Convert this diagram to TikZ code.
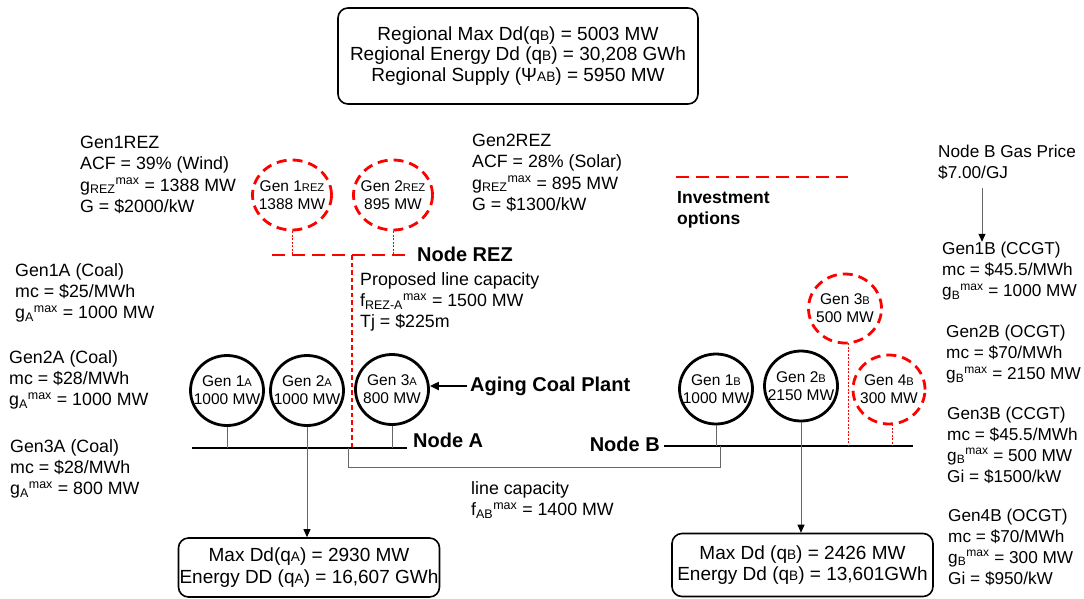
\documentclass[tikz,border=0pt]{standalone}
\usepackage{fontspec}
\setmainfont{Liberation Sans}
\usetikzlibrary{arrows.meta,shapes.geometric}
\newcommand{\lo}[1]{\scalebox{0.72}{#1}}
\definecolor{invred}{RGB}{255,0,0}
\tikzset{
  txt/.style={anchor=west, align=left, inner sep=0pt, font=\fontsize{17.8}{21.3}\selectfont},
  rtxt/.style={txt, font=\fontsize{17.2}{21}\selectfont},
  boldlbl/.style={anchor=west, inner sep=0pt, font=\fontsize{20}{22}\selectfont\bfseries},
  gen/.style={ellipse, draw, line width=2.8pt, minimum width=73pt, minimum height=70pt, inner sep=0pt},
  gentext/.style={inner sep=0pt, align=center, font=\fontsize{15.5}{18}\selectfont},
  invgen/.style={gen, draw=invred, dash pattern=on 10pt off 6pt},
  bus/.style={line width=2.8pt},
  invbus/.style={line width=2.8pt, invred, dash pattern=on 13pt off 7pt},
  thinlink/.style={gray!80!black, line width=0.9pt},
  dotlink/.style={invred, line width=0.8pt, dash pattern=on 2pt off 1.5pt},
  reddash/.style={invred, line width=1.2pt, dash pattern=on 4.5pt off 3pt},
  arr/.style={thinlink, -{Triangle[length=8pt,width=7pt,color=black]}},
  infobox/.style={draw, line width=1.6pt, rounded corners=10pt, inner sep=0pt, align=center, font=\fontsize{19}{21.5}\selectfont}
}
\begin{document}
\begin{tikzpicture}[x=1pt,y=-1pt]
\useasboundingbox (0,0) rectangle (1084,598);

% top box
\node[infobox, minimum width=360pt, minimum height=96pt, font=\fontsize{19}{20.6}\selectfont] (region) at (518,56)
  {Regional Max Dd(q\lo{B}) = 5003 MW\\Regional Energy Dd (q\lo{B}) = 30,208 GWh\\Regional Supply (Ψ\lo{AB}) = 5950 MW};

% REZ text blocks
\node[txt] (g1reztxt) at (80,175) {Gen1REZ\\ACF = 39\% (Wind)\\g\textsubscript{REZ}\textsuperscript{max} = 1388 MW\\G = \$2000/kW};
\node[txt] (g2reztxt) at (472,173) {Gen2REZ\\ACF = 28\% (Solar)\\g\textsubscript{REZ}\textsuperscript{max} = 895 MW\\G = \$1300/kW};

% REZ generators
\node[invgen, minimum width=79pt, minimum height=70pt] (g1rez) at (292,195) {};
\node[gentext] at (g1rez) {Gen 1\lo{REZ}\\1388 MW};
\node[invgen, minimum width=79pt, minimum height=70pt] (g2rez) at (393,195) {};
\node[gentext] at (g2rez) {Gen 2\lo{REZ}\\895 MW};

% REZ bus
\coordinate (rezL) at (272,255);
\coordinate (rezR) at (409,255);
\draw[invbus] (rezL) -- (rezR);
\node[boldlbl] (noderez) at (417,254) {Node REZ};
\draw[dotlink] (g1rez.south) -- (g1rez.south |- rezL);
\draw[dotlink] (g2rez.south) -- (g2rez.south |- rezL);

% proposed line
\node[txt] (proptxt) at (360,302) {Proposed line capacity\\f\textsubscript{REZ-A}\textsuperscript{max} = 1500 MW\\Tj = \$225m};

% investment legend
\coordinate (legL) at (676,177);
\coordinate (legR) at (848,177);
\draw[invbus] (legL) -- (legR);
\node[txt, font=\fontsize{17.5}{21}\selectfont\bfseries] (legtxt) at (677,209.5) {Investment\\options};

% Node A generators text
\node[txt] (g1atxt) at (15,293) {Gen1A (Coal)\\mc = \$25/MWh\\g\textsubscript{A}\textsuperscript{max} = 1000 MW};
\node[txt] (g2atxt) at (9,380) {Gen2A (Coal)\\mc = \$28/MWh\\g\textsubscript{A}\textsuperscript{max} = 1000 MW};
\node[txt] (g3atxt) at (10,469) {Gen3A (Coal)\\mc = \$28/MWh\\g\textsubscript{A}\textsuperscript{max} = 800 MW};

% Node A generators
\node[gen] (g1a) at (227,390.5) {};
\node[gentext] at (g1a) {Gen 1\lo{A}\\1000 MW};
\node[gen] (g2a) at (307,390.5) {};
\node[gentext] at (g2a) {Gen 2\lo{A}\\1000 MW};
\node[gen] (g3a) at (392,389.5) {};
\node[gentext] at (g3a) {Gen 3\lo{A}\\800 MW};

% Node A bus
\coordinate (busAL) at (192,448);
\coordinate (busAR) at (407,448);
\draw[bus] (busAL) -- (busAR);
\node[boldlbl] (nodeA) at (413,440) {Node A};
\draw[thinlink] (g1a.south) -- (g1a.south |- busAL);
\draw[thinlink] (g3a.south) -- (g3a.south |- busAL);

% REZ to A proposed line
\coordinate (rezdrop) at (352,255);
\draw[reddash] (rezdrop) -- (rezdrop |- busAL);

% aging coal plant
\node[boldlbl] (aging) at (470,386) {Aging Coal Plant};
\draw[line width=2pt, -{Triangle[length=9pt,width=8pt]}] (aging.west) ++(-3,0) -- (g3a.east |- aging.west);

% Node B gas
\node[rtxt] (gastxt) at (938,162.5) {Node B Gas Price\\\$7.00/GJ};
\node[rtxt] (g1btxt) at (942,271) {Gen1B (CCGT)\\mc = \$45.5/MWh\\g\textsubscript{B}\textsuperscript{max} = 1000 MW};
\coordinate (gasTop) at (982,188);
\draw[arr] (gasTop) -- (gasTop |- g1btxt.north);
\node[rtxt] (g2btxt) at (946,354.5) {Gen2B (OCGT)\\mc = \$70/MWh\\g\textsubscript{B}\textsuperscript{max} = 2150 MW};
\node[rtxt] (g3btxt) at (947,445) {Gen3B (CCGT)\\mc = \$45.5/MWh\\g\textsubscript{B}\textsuperscript{max} = 500 MW\\Gi = \$1500/kW};
\node[rtxt] (g4btxt) at (948,547) {Gen4B (OCGT)\\mc = \$70/MWh\\g\textsubscript{B}\textsuperscript{max} = 300 MW\\Gi = \$950/kW};

% Node B generators
\node[gen] (g1b) at (716,389) {};
\node[gentext] at (g1b) {Gen 1\lo{B}\\1000 MW};
\node[gen] (g2b) at (801,386) {};
\node[gentext] at (g2b) {Gen 2\lo{B}\\2150 MW};
\node[invgen, minimum width=73pt, minimum height=69pt] (g3b) at (845,308.5) {};
\node[gentext] at (g3b) {Gen 3\lo{B}\\500 MW};
\node[invgen, minimum width=72pt, minimum height=69pt] (g4b) at (889,389.5) {};
\node[gentext] at (g4b) {Gen 4\lo{B}\\300 MW};

% Node B bus
\coordinate (busBL) at (664,446);
\coordinate (busBR) at (913,446);
\draw[bus] (busBL) -- (busBR);
\node[boldlbl, anchor=east] (nodeB) at (660,444) {Node B};
\draw[thinlink] (g1b.south) -- (g1b.south |- busBL);
\coordinate (g3bdrop) at (848,343);
\draw[dotlink] (g3bdrop) -- (g3bdrop |- busBL);
\coordinate (g4bdrop) at (892,424);
\draw[dotlink] (g4bdrop) -- (g4bdrop |- busBL);

% A-B line
\coordinate (abA) at (348,448);
\coordinate (abB) at (720,446);
\draw[thinlink] (abA) -- (348,467) -| (abB);
\node[txt] (linetxt) at (471,500) {line capacity\\f\textsubscript{AB}\textsuperscript{max} = 1400 MW};

% demand boxes
\node[infobox, minimum width=261pt, minimum height=59pt] (dA) at (309,567.5)
  {Max Dd(q\lo{A}) = 2930 MW\\Energy DD (q\lo{A}) = 16,607 GWh};
\node[infobox, minimum width=261pt, minimum height=63pt] (dB) at (802.5,565)
  {Max Dd (q\lo{B}) = 2426 MW\\Energy Dd (q\lo{B}) = 13,601GWh};
\draw[arr] (g2a.south) -- (g2a.south |- dA.north);
\draw[arr] (g2b.south) -- (g2b.south |- dB.north);
\end{tikzpicture}
\end{document}
